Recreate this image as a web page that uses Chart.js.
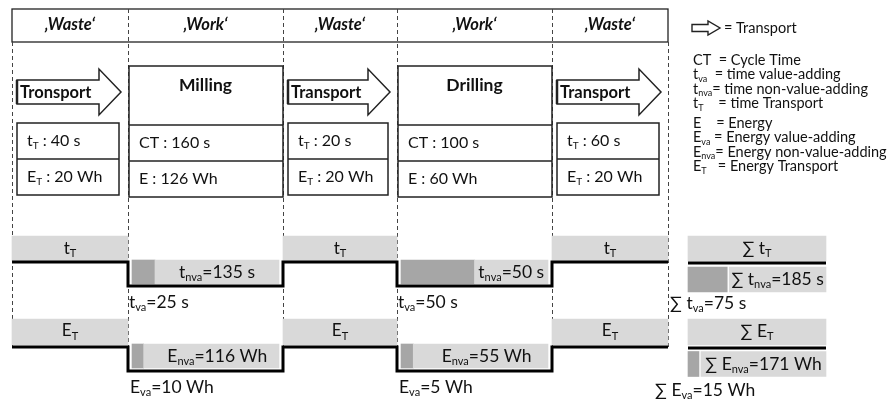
<!DOCTYPE html>
<html>
<head>
<meta charset="utf-8">
<script src="https://cdn.jsdelivr.net/npm/chart.js@4.4.1/dist/chart.umd.min.js"></script>
<style>
  html, body { margin: 0; padding: 0; background: #fff; }
  #wrap { width: 893px; height: 403px; }
</style>
</head>
<body>
<div id="wrap"><canvas id="vsm"></canvas></div>
<script>
// ---- data ----
const columns = ['Waste', 'Work', 'Waste', 'Work', 'Waste'];
const steps = ['Tronsport', 'Milling', 'Transport', 'Drilling', 'Transport'];
const transportTime = [40, 20, 60];     // t_T  [s]
const transportEnergy = [20, 20, 20];   // E_T  [Wh]
const cycleTime = [160, 100];           // CT   [s]
const energy = [126, 60];               // E    [Wh]
const tVA = [25, 50];
const tNVA = [135, 50];
const eVA = [10, 5];
const eNVA = [116, 55];
const legendRows = [
  ['CT  = Cycle Time', 't_{va}  = time value-adding', 't_{nva}= time non-value-adding', 't_{T}    = time Transport'],
  ['E    = Energy', 'E_{va} = Energy value-adding', 'E_{nva}= Energy non-value-adding', 'E_{T}   = Energy Transport']
];

const sum = a => a.reduce((s, v) => s + v, 0);

// ---- layout (px) ----
const colEdges = [12, 128, 283, 397, 552, 668];
const FONT = 'Lato, "Liberation Sans", sans-serif';
const INK = '#222';
const LIGHT = '#d9d9d9', DARK = '#a6a6a6';
const tRow = { hi: 262, lo: 286, tMid: 248.5, tH: 25, wMid: 272, wH: 24 };
const eRow = { hi: 347, lo: 371, tMid: 332, tH: 26, wMid: 356, wH: 24 };
const sumSpan = [688, 826];

const transportCols = [0, 2, 4];
const workCols = [1, 3];
const workSpan = c => [colEdges[c] + 4, colEdges[c + 1] - 4];
const splitAt = (span, va, nva, gap) => span[0] + (span[1] - span[0] - gap) * va / (va + nva);

function bars(points, color, thick) {
  return { type: 'bar', data: points, backgroundColor: color, barThickness: thick,
           grouped: false, borderWidth: 0, order: 2 };
}
function line(points) {
  return { type: 'line', indexAxis: 'x', data: points, borderColor: '#000', borderWidth: 3,
           pointRadius: 0, fill: false, tension: 0, order: 0, borderJoinStyle: 'miter' };
}
function stepPath(row) {
  const pts = [];
  columns.forEach((k, c) => {
    const y = k === 'Waste' ? row.hi : row.lo;
    pts.push({ x: colEdges[c], y }, { x: colEdges[c + 1], y });
  });
  return pts;
}

function rowSets(row, va, nva) {
  const light = [], dark = [];
  workCols.forEach((c, i) => {
    const sp = workSpan(c);
    const s = splitAt(sp, va[i], nva[i], 0);
    dark.push({ x: [sp[0], s], y: row.wMid });
    light.push({ x: [s, sp[1]], y: row.wMid });
  });
  return [
    bars(transportCols.map(c => ({ x: [colEdges[c], colEdges[c + 1]], y: row.tMid })), LIGHT, row.tH),
    bars(light, LIGHT, row.wH),
    bars(dark, DARK, row.wH)
  ];
}

function sumSets(row, va, nva, splitY, lineY) {
  const s = splitAt(sumSpan, sum(va), sum(nva), 2);
  return [
    bars([{ x: sumSpan, y: row.tMid }], LIGHT, row.tH),
    bars([{ x: [s + 2, sumSpan[1]], y: splitY }], LIGHT, 25),
    bars([{ x: [sumSpan[0], s], y: splitY }], DARK, 25),
    line([{ x: sumSpan[0], y: lineY }, { x: sumSpan[1], y: lineY }])
  ];
}

const datasets = [
  ...rowSets(tRow, tVA, tNVA),
  ...rowSets(eRow, eVA, eNVA),
  ...sumSets(tRow, tVA, tNVA, 279.5, 263),
  ...sumSets(eRow, eVA, eNVA, 364, 348),
  line(stepPath(tRow)),
  line(stepPath(eRow))
];

// ---- text helper: "t_{nva}=135 s" -> subscript parts ----
function rich(ctx, str, x, y, size, opt) {
  opt = opt || {};
  const style = (opt.italic ? 'italic ' : '') + (opt.bold ? 'bold ' : '');
  const parts = str.split(/_\{([^}]*)\}/).map((t, i) => ({ t, sub: i % 2 === 1 }));
  const subSize = Math.round(size * 0.62);
  let w = 0;
  parts.forEach(p => {
    ctx.font = style + (p.sub ? subSize : size) + 'px ' + FONT;
    p.w = ctx.measureText(p.t).width; w += p.w;
  });
  let cx = opt.align === 'center' ? x - w / 2 : opt.align === 'right' ? x - w : x;
  ctx.textAlign = 'left';
  ctx.textBaseline = 'middle';
  ctx.fillStyle = opt.color || '#111';
  parts.forEach(p => {
    ctx.font = style + (p.sub ? subSize : size) + 'px ' + FONT;
    ctx.fillText(p.t, cx, p.sub ? y + size * 0.3 : y);
    cx += p.w;
  });
}

function arrowPath(ctx, x0, xb, tip, sT, sB, hT, hB) {
  const yMid = (hT + hB) / 2;
  ctx.beginPath();
  ctx.moveTo(x0, sT); ctx.lineTo(xb, sT); ctx.lineTo(xb, hT); ctx.lineTo(tip, yMid);
  ctx.lineTo(xb, hB); ctx.lineTo(xb, sB); ctx.lineTo(x0, sB); ctx.closePath();
}

const diagram = {
  id: 'diagram',
  beforeDatasetsDraw(chart) {
    const ctx = chart.ctx;
    const X = v => chart.scales.x.getPixelForValue(v);
    const Y = v => chart.scales.y.getPixelForValue(v);
    ctx.save();
    // header
    ctx.strokeStyle = INK; ctx.lineWidth = 1.3;
    ctx.strokeRect(X(colEdges[0]), Y(9), X(colEdges[5]) - X(colEdges[0]), Y(42) - Y(9));
    // dashed column separators
    ctx.setLineDash([4, 3]); ctx.lineWidth = 1; ctx.strokeStyle = '#444';
    colEdges.forEach((e, i) => {
      const top = (i === 0 || i === colEdges.length - 1) ? 42 : 9;
      ctx.beginPath(); ctx.moveTo(X(e) + 0.5, Y(top)); ctx.lineTo(X(e) + 0.5, Y(eRow.hi)); ctx.stroke();
    });
    ctx.setLineDash([]);
    // process boxes and transport arrows
    ctx.strokeStyle = INK; ctx.lineWidth = 1.5; ctx.fillStyle = '#fff';
    columns.forEach((k, c) => {
      const a = colEdges[c], b = colEdges[c + 1];
      if (k === 'Waste') {
        arrowPath(ctx, X(a + 5), X(b - 29), X(b - 7), Y(80), Y(104), Y(69), Y(115));
        ctx.fill(); ctx.stroke();
        ctx.lineWidth = 2.5;
        ctx.beginPath(); ctx.moveTo(X(a + 5), Y(80)); ctx.lineTo(X(a + 5), Y(104)); ctx.stroke();
        ctx.lineWidth = 1.5;
        ctx.fillRect(X(a + 5), Y(123), X(b - 9) - X(a + 5), Y(195) - Y(123));
        ctx.strokeRect(X(a + 5), Y(123), X(b - 9) - X(a + 5), Y(195) - Y(123));
        ctx.beginPath(); ctx.moveTo(X(a + 5), Y(159)); ctx.lineTo(X(b - 9), Y(159)); ctx.stroke();
      } else {
        ctx.fillRect(X(a + 1), Y(66), X(b) - X(a + 1), Y(197) - Y(66));
        ctx.strokeRect(X(a + 1), Y(66), X(b) - X(a + 1), Y(197) - Y(66));
        [125, 161].forEach(yy => {
          ctx.beginPath(); ctx.moveTo(X(a + 1), Y(yy)); ctx.lineTo(X(b), Y(yy)); ctx.stroke();
        });
      }
    });
    // legend arrow
    ctx.lineWidth = 1.4;
    arrowPath(ctx, X(692), X(708), X(720), Y(24.5), Y(31.5), Y(21), Y(35));
    ctx.fill(); ctx.stroke();
    ctx.restore();
  },
  afterDatasetsDraw(chart) {
    const ctx = chart.ctx;
    const X = v => chart.scales.x.getPixelForValue(v);
    const Y = v => chart.scales.y.getPixelForValue(v);
    ctx.save();
    let ti = 0, wi = 0;
    columns.forEach((k, c) => {
      const a = colEdges[c], b = colEdges[c + 1], mid = (a + b) / 2;
      rich(ctx, '\u201A' + k + '\u2018', X(mid), Y(25), 16.5, { bold: true, italic: true, align: 'center' });
      if (k === 'Waste') {
        rich(ctx, steps[c], X(a + 8), Y(93), 16.5, { bold: true });
        rich(ctx, 't_{T} : ' + transportTime[ti] + ' s', X(a + 15), Y(141), 16);
        rich(ctx, 'E_{T} : ' + transportEnergy[ti] + ' Wh', X(a + 15), Y(177), 16);
        rich(ctx, 't_{T}', X(mid), Y(tRow.tMid), 17, { align: 'center' });
        rich(ctx, 'E_{T}', X(mid), Y(eRow.tMid - 1), 17, { align: 'center' });
        ti++;
      } else {
        rich(ctx, steps[c], X(mid), Y(85), 17.5, { bold: true, align: 'center' });
        rich(ctx, 'CT : ' + cycleTime[wi] + ' s', X(a + 11), Y(143), 16);
        rich(ctx, 'E : ' + energy[wi] + ' Wh', X(a + 11), Y(179), 16);
        const sp = workSpan(c);
        const st = splitAt(sp, tVA[wi], tNVA[wi], 0);
        const se = splitAt(sp, eVA[wi], eNVA[wi], 0);
        rich(ctx, 't_{nva}=' + tNVA[wi] + ' s', X((st + sp[1]) / 2), Y(tRow.wMid), 17.5, { align: 'center' });
        rich(ctx, 'E_{nva}=' + eNVA[wi] + ' Wh', X((se + sp[1]) / 2 + 6), Y(eRow.wMid), 17.5, { align: 'center' });
        rich(ctx, 't_{va}=' + tVA[wi] + ' s', X(a + 1), Y(302), 17.5);
        rich(ctx, 'E_{va}=' + eVA[wi] + ' Wh', X(a + 2), Y(387), 17.5);
        wi++;
      }
    });
    // sums
    const sT = splitAt(sumSpan, sum(tVA), sum(tNVA), 2);
    const sE = splitAt(sumSpan, sum(eVA), sum(eNVA), 2);
    const mid = (sumSpan[0] + sumSpan[1]) / 2;
    rich(ctx, '\u2211 t_{T}', X(mid), Y(tRow.tMid), 17.5, { align: 'center' });
    rich(ctx, '\u2211 t_{nva}=' + sum(tNVA) + ' s', X((sT + 2 + sumSpan[1]) / 2), Y(279.5), 17.5, { align: 'center' });
    rich(ctx, '\u2211 t_{va}=' + sum(tVA) + ' s', X(670), Y(303), 17.5);
    rich(ctx, '\u2211 E_{T}', X(mid), Y(eRow.tMid - 1), 17.5, { align: 'center' });
    rich(ctx, '\u2211 E_{nva}=' + sum(eNVA) + ' Wh', X((sE + 2 + sumSpan[1]) / 2), Y(364), 17.5, { align: 'center' });
    rich(ctx, '\u2211 E_{va}=' + sum(eVA) + ' Wh', X(655), Y(390), 17.5);
    // legend
    rich(ctx, '= Transport', X(724), Y(28), 14.5);
    legendRows.forEach((grp, g) => {
      grp.forEach((txt, r) => rich(ctx, txt, X(693), Y((g ? 123 : 60) + r * 14.5), 14.5));
    });
    ctx.restore();
  }
};

new Chart(document.getElementById('vsm'), {
  type: 'bar',
  data: { datasets },
  options: {
    indexAxis: 'y',
    responsive: true,
    maintainAspectRatio: false,
    animation: false,
    layout: { padding: 0 },
    scales: {
      x: { type: 'linear', min: 0, max: 893, display: false, offset: false },
      y: { type: 'linear', min: 0, max: 403, reverse: true, display: false, offset: false }
    },
    plugins: { legend: { display: false }, tooltip: { enabled: false } }
  },
  plugins: [diagram]
});
</script>
</body>
</html>
